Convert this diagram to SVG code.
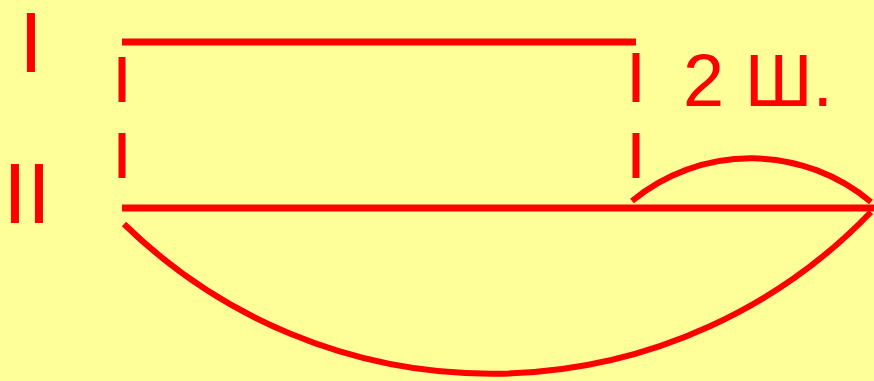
<svg xmlns="http://www.w3.org/2000/svg" width="874" height="381" viewBox="0 0 874 381">
<style>
.ln{stroke:#FF0000;stroke-width:7;fill:none}
.arc{stroke:#FF0000;stroke-width:6;fill:none}
.t{font-family:"Liberation Sans",Arial,sans-serif;fill:#FF0000}
</style>
<rect width="874" height="381" fill="#FFFF99"/>
<g id="label-I"><text class="t" x="19" y="72" font-size="86">I</text></g>
<g id="label-II"><text class="t" x="3" y="223" font-size="86">II</text></g>
<g id="label-2sh"><text class="t" x="683" y="106" font-size="74">2 Ш.</text></g>
<g id="connectors">
<line class="ln" x1="122" y1="42" x2="636" y2="42"/>
<line class="ln" x1="122" y1="57" x2="122" y2="102" stroke-width="8"/>
<line class="ln" x1="122" y1="133" x2="122" y2="178" stroke-width="8"/>
<line class="ln" x1="636" y1="53" x2="636" y2="102" stroke-width="8"/>
<line class="ln" x1="636" y1="133" x2="636" y2="178" stroke-width="8"/>
<line class="ln" x1="122" y1="208" x2="874" y2="208" stroke-width="8"/>
<path class="arc" d="M632,201 A187,187 0 0 1 871,202"/>
<path class="arc" d="M124,224 A526,526 0 0 0 871,212"/>
</g>
</svg>
